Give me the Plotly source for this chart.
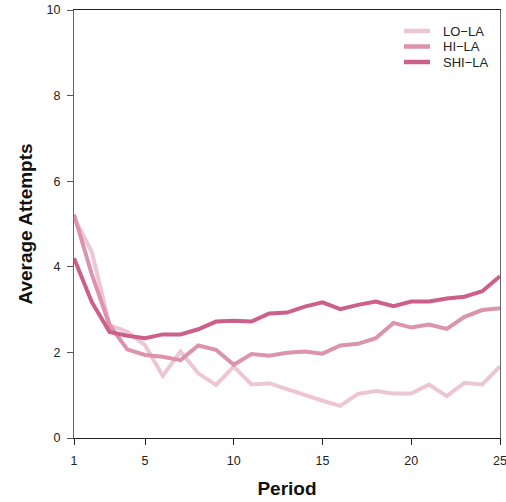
import plotly.graph_objects as go

periods = list(range(1, 26))
lo_la = [5.15, 4.35, 2.64, 2.48, 2.17, 1.45, 2.02, 1.51, 1.24, 1.67, 1.25, 1.28, 1.14, 1.00, 0.87,
         0.75, 1.03, 1.10, 1.04, 1.04, 1.25, 0.98, 1.29, 1.25, 1.67]
hi_la = [5.22, 3.83, 2.64, 2.07, 1.94, 1.90, 1.82, 2.16, 2.06, 1.71, 1.96, 1.92, 1.99, 2.02, 1.97,
         2.16, 2.20, 2.33, 2.69, 2.58, 2.65, 2.55, 2.83, 2.99, 3.03]
shi_la = [4.20, 3.18, 2.48, 2.39, 2.33, 2.42, 2.42, 2.54, 2.72, 2.74, 2.72, 2.91, 2.93, 3.07, 3.17,
          3.01, 3.11, 3.19, 3.08, 3.19, 3.19, 3.26, 3.30, 3.43, 3.78]
names = ["LO\u2212LA", "HI\u2212LA", "SHI\u2212LA"]
colors = ["#edc6d4", "#dc93ad", "#cc6088"]
x_ticks = [1, 5, 10, 15, 20, 25]
y_ticks = [0, 2, 4, 6, 8, 10]

W, H = 506, 502
ML, MR, MT, MB = 74, 6, 10, 64
PW, PH = W - ML - MR, H - MT - MB

fig = go.Figure()
for name, ys, c in zip(names, [lo_la, hi_la, shi_la], colors):
    fig.add_trace(go.Scatter(x=periods, y=ys, name=name, mode="lines",
                             line=dict(color=c, width=4), showlegend=False))

# manual legend (compact spacing as in the reference)
def px_x(px):
    return (px - ML) / PW

def px_y(py):
    return 1 - (py - MT) / PH

for i, (name, c) in enumerate(zip(names, colors)):
    yy = 31 + 15.5 * i
    fig.add_shape(type="line", xref="paper", yref="paper",
                  x0=px_x(404), x1=px_x(430), y0=px_y(yy), y1=px_y(yy),
                  line=dict(color=c, width=4.5))
    fig.add_annotation(xref="paper", yref="paper", x=px_x(441), y=px_y(yy),
                       xanchor="left", yanchor="middle", text=name, showarrow=False,
                       font=dict(size=13, color="#222"))

font = "Liberation Sans, Arial, sans-serif"
fig.update_layout(
    width=W, height=H,
    margin=dict(l=ML, r=MR, t=MT, b=MB),
    plot_bgcolor="white", paper_bgcolor="white",
    font=dict(family=font, size=12, color="#222"),
    showlegend=False,
    xaxis=dict(range=[1, 25], tickvals=x_ticks, ticks="outside", ticklen=6,
               tickcolor="#222", showline=True, linecolor="#222", linewidth=1.2,
               mirror=True, showgrid=False, zeroline=False, automargin=False,
               ticklabeloverflow="allow", ticklabelstandoff=5,
               title=dict(text="<b>Period</b>", font=dict(size=19, color="#111"), standoff=14),
               tickfont=dict(size=12.5, color="#222")),
    yaxis=dict(range=[0, 10], tickvals=y_ticks, ticks="outside", ticklen=6,
               tickcolor="#555", showline=True, linecolor="#666", linewidth=1.2,
               mirror=True, showgrid=False, zeroline=False, automargin=False,
               ticklabeloverflow="allow", ticklabelstandoff=4,
               title=dict(text="<b>Average Attempts</b>", font=dict(size=19, color="#111"), standoff=8),
               tickfont=dict(size=12.5, color="#222")),
)
fig.write_html("out.html")
